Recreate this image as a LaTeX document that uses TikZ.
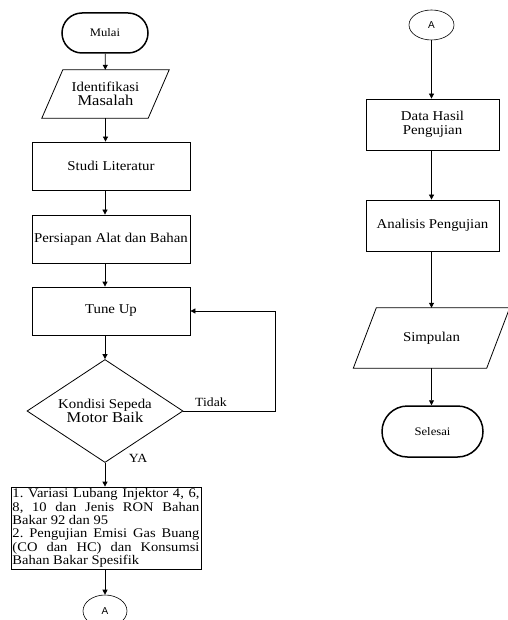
\documentclass[tikz,border=0pt]{standalone}
\usepackage{fontspec}
\setmainfont{Liberation Serif}[FakeStretch=1.1]
\newfontfamily\sansA{Liberation Sans}
\usetikzlibrary{shapes.geometric,shapes.misc,arrows.meta,calc}
\frenchspacing
\begin{document}
\begin{tikzpicture}[x=1pt,y=-1pt,
  txt/.style={font=\fontsize{13.5}{14.5}\selectfont},
  box/.style={draw, line width=0.8pt, minimum width=158pt, minimum height=48pt, inner sep=0pt, align=center, txt},
  rbox/.style={box, minimum width=133pt, minimum height=51pt},
  term/.style={rounded rectangle, draw, line width=1.5pt, inner sep=0pt, font=\fontsize{11.5}{12}\selectfont},
  iobody/.style={rectangle, inner sep=0pt, align=center, txt},
  ioline/.style={line width=0.8pt, line join=miter},
  dec/.style={diamond, draw, line width=0.8pt, aspect=1.5, inner sep=0pt, align=center, txt, minimum width=156pt, minimum height=103pt},
  conn/.style={ellipse, draw, line width=0.6pt, inner sep=0pt, font=\sansA\fontsize{10}{11}\selectfont},
  arr/.style={-{Triangle[length=5pt,width=5pt]}, line width=0.8pt},
  lbl/.style={font=\fontsize{12.5}{13}\selectfont, inner sep=0pt}
]
\useasboundingbox (0,0) rectangle (507,620);

% left column
\node[term, minimum width=86pt, minimum height=40pt] (mulai) at (105,33) {Mulai};
\node[iobody, minimum width=106pt, minimum height=48pt] (ident) at (105.5,94)
  {Identifikasi\\[-1pt]{\fontsize{15}{15}\selectfont Masalah}};
\draw[ioline] ([xshift=-10.5pt]ident.south west) -- ([xshift=-10.5pt]ident.south east)
  -- ([xshift=10.5pt]ident.north east) -- ([xshift=10.5pt]ident.north west) -- cycle;
\node[box] (studi) at (111,166) {Studi Literatur};
\node[box] (persiapan) at (111,239) {Persiapan Alat dan Bahan};
\node[box] (tune) at (111,311) {Tune Up};
\node[dec] (kondisi) at (105,411) {Kondisi Sepeda\\{\fontsize{15}{15}\selectfont Motor Baik}};
\node[draw, line width=0.8pt, minimum width=190pt, minimum height=80pt, inner sep=1.5pt, text width=187pt, align=justify,
  font=\fontsize{13.2}{13.4}\selectfont] (var) at (106,528)
  {1. Variasi Lubang Injektor 4, 6,\linebreak 8, 10 dan Jenis RON Bahan\linebreak Bakar 92 dan 95\par
   2. Pengujian Emisi Gas Buang\linebreak (CO dan HC) dan Konsumsi\linebreak Bahan Bakar Spesifik};
\node[conn, minimum width=44pt, minimum height=32pt] (a1) at (105,611) {A};

\node[lbl] (tidak) at (211,402) {Tidak};
\node[lbl] (ya) at (138,458) {YA};
\coordinate (fb) at (275,411);

\draw[arr] (mulai) -- (ident);
\draw[arr] (ident.south) -- (ident.south |- studi.north);
\draw[arr] (studi.south -| mulai) -- (persiapan.north -| mulai);
\draw[arr] (persiapan.south -| mulai) -- (tune.north -| mulai);
\draw[arr] (tune.south -| mulai) -- (kondisi.north);
\draw[arr] (kondisi.east) -- (fb) |- (tune.east);
\draw[arr] (kondisi.south) -- (kondisi.south |- var.north);
\draw[arr] (var.south -| a1) -- (a1.north);

% right column
\node[conn, minimum width=45pt, minimum height=30pt] (a2) at (431.5,25) {A};
\node[rbox] (data) at (432.5,124.5) {Data Hasil\\Pengujian};
\node[rbox] (analisis) at (432.5,225.5) {Analisis Pengujian};
\node[iobody, minimum width=133pt, minimum height=60pt] (simpulan) at (431.5,338) {Simpulan};
\draw[ioline] ([xshift=-11.5pt]simpulan.south west) -- ([xshift=-11.5pt]simpulan.south east)
  -- ([xshift=11.5pt]simpulan.north east) -- ([xshift=11.5pt]simpulan.north west) -- cycle;
\node[term, minimum width=101pt, minimum height=51pt] (selesai) at (432.5,431.5) {Selesai};

\draw[arr] (a2.south) -- (a2.south |- data.north);
\draw[arr] (data.south -| a2) -- (analisis.north -| a2);
\draw[arr] (analisis.south -| a2) -- (simpulan.north -| a2);
\draw[arr] (simpulan.south -| a2) -- (selesai.north -| a2);
\end{tikzpicture}
\end{document}
